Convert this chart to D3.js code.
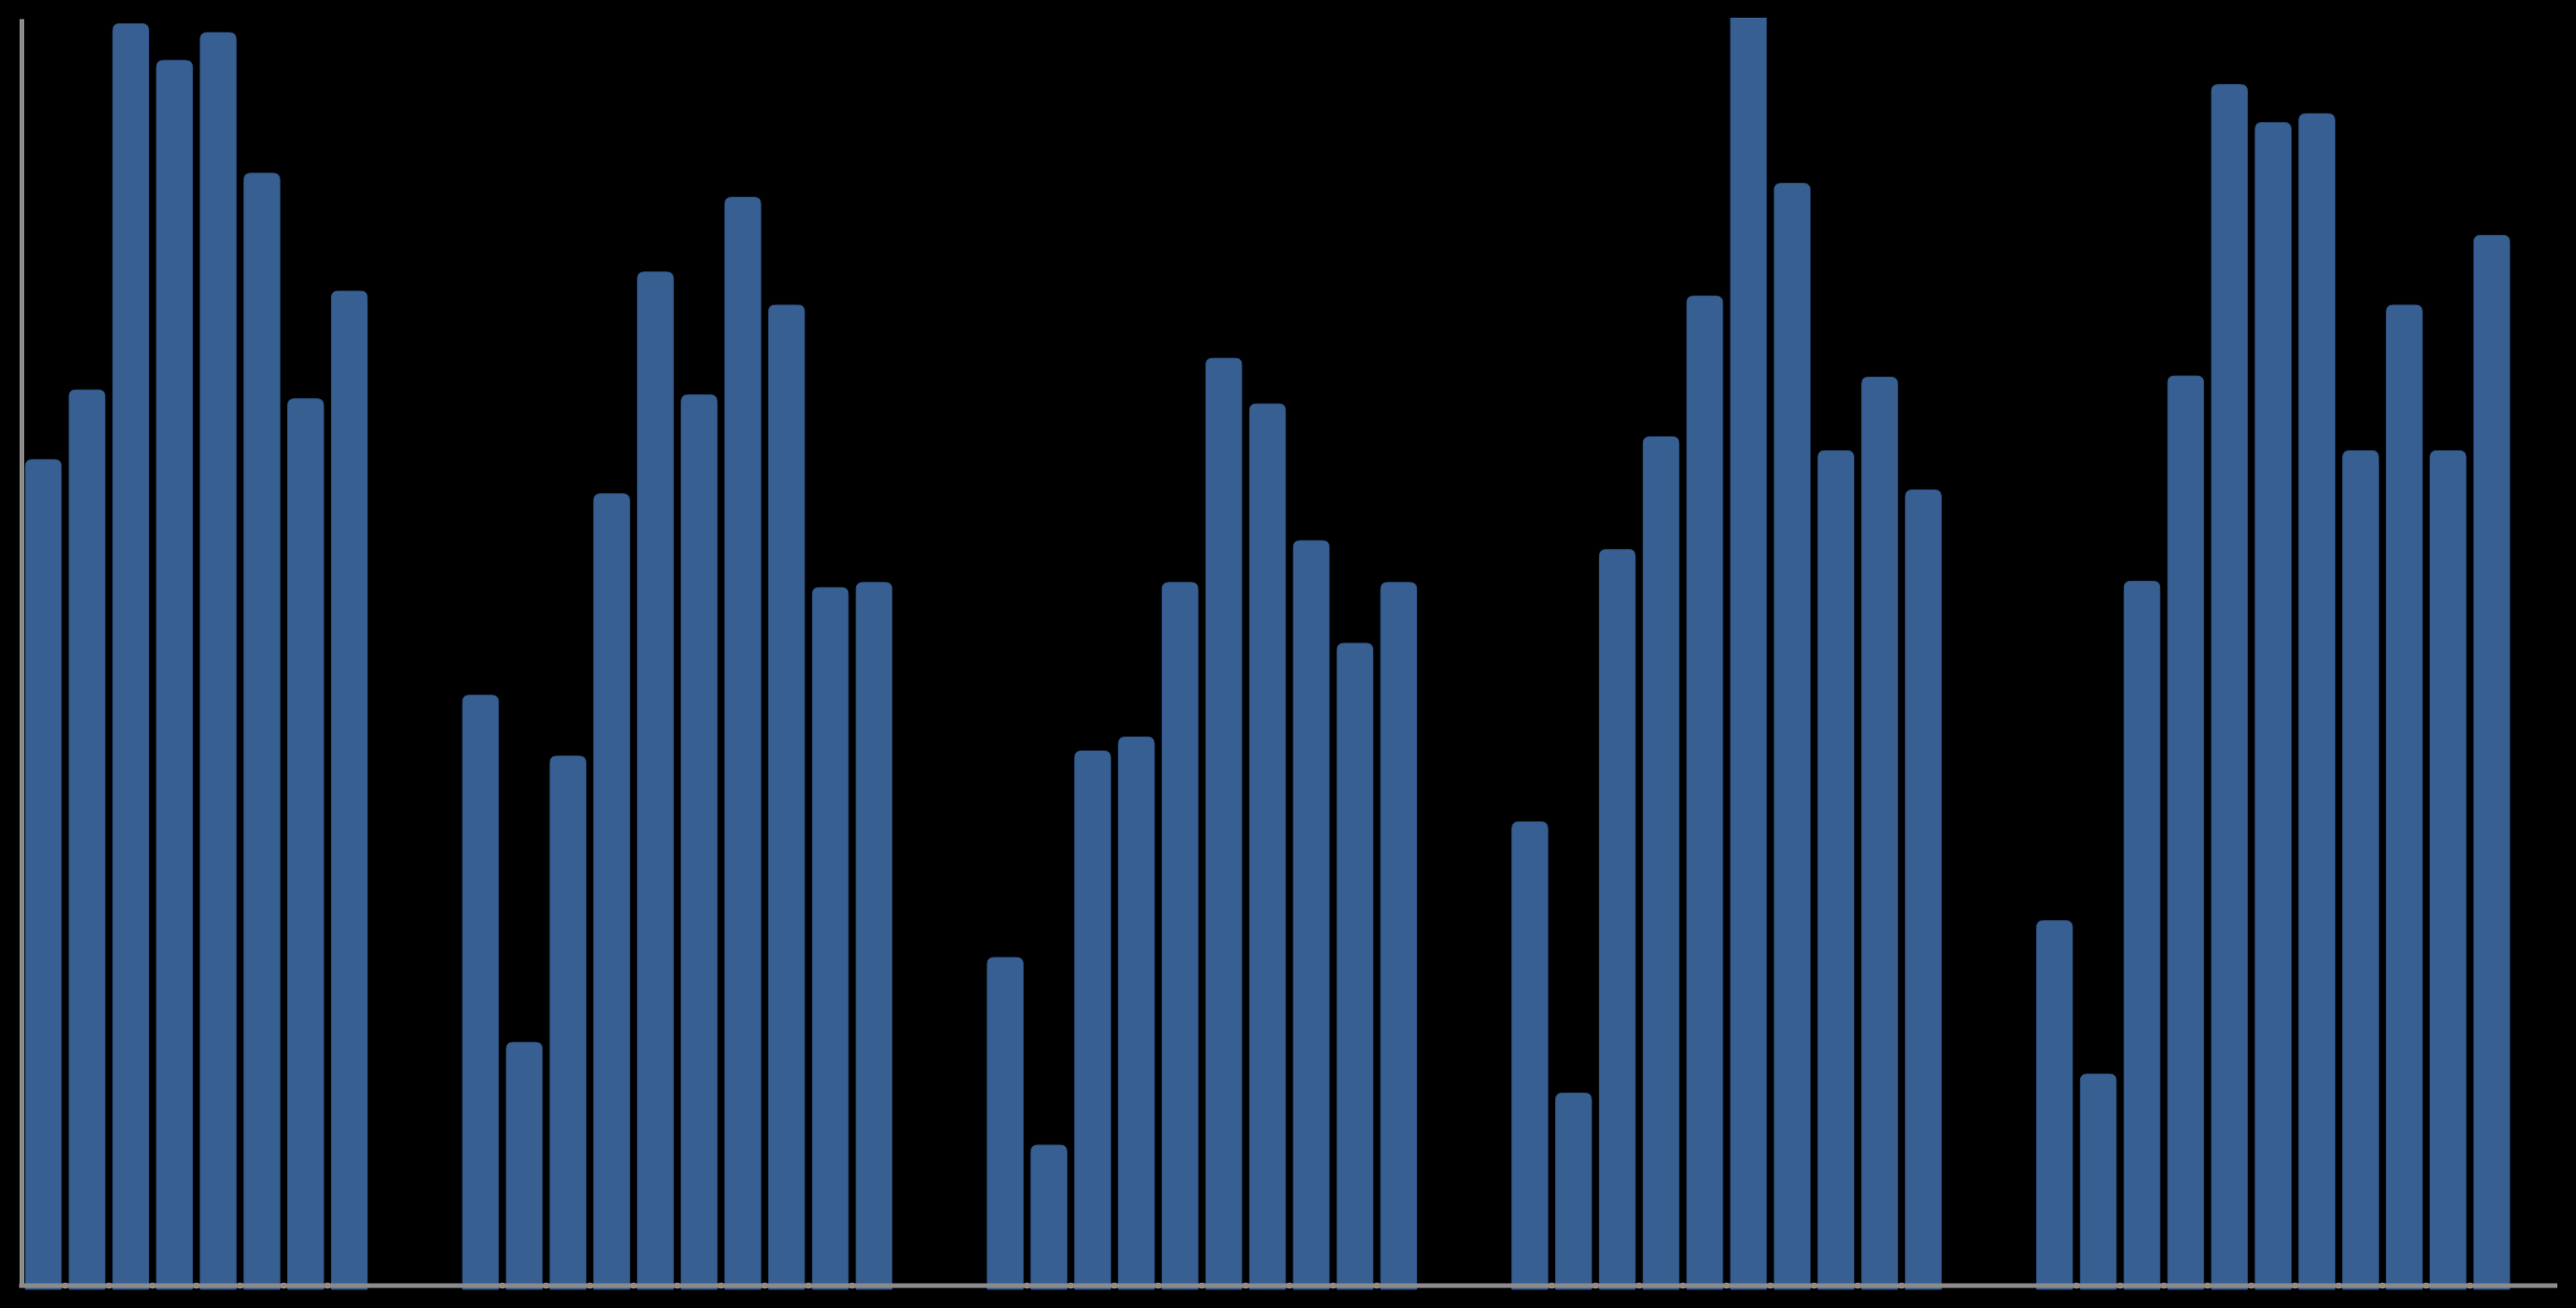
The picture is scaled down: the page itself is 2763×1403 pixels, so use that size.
<!DOCTYPE html>
<meta charset="utf-8">
<script src="https://d3js.org/d3.v7.min.js"></script>
<style>
  html, body { margin: 0; padding: 0; background: #000; }
</style>
<div id="my_dataviz"></div>
<script>
  // bar groups as they appear left to right (no labels in the chart)
  var groupNames = ["G1", "G2", "G3", "G4", "G5"];
  var group1 = [65.2, 70.7, 99.6, 96.7, 98.9, 87.8, 70.0, 78.5];
  var group2 = [46.6, 19.2, 41.8, 62.5, 80.0, 70.3, 85.9, 77.4, 55.1, 55.5];
  var group3 = [25.9, 11.1, 42.2, 43.3, 55.5, 73.2, 69.6, 58.8, 50.7, 55.5];
  var group4 = [36.6, 15.2, 58.1, 67.0, 78.1, 104.0, 87.0, 65.9, 71.7, 62.8];
  var group5 = [28.8, 16.7, 55.6, 71.8, 94.8, 91.8, 92.5, 65.9, 77.4, 65.9, 82.9];
  var groupValues = [group1, group2, group3, group4, group5];

  // chart box (note: "top" is reserved on window, so use plot* names)
  var W = 2763, H = 1403;
  var plotLeft = 23, plotRight = 2743, plotTop = 20, plotBase = 1379;

  // flat list of slots on the category axis: bars, then empty gap slots
  var slots = [], bars = [];
  groupValues.forEach(function(vals, g) {
    vals.forEach(function(v, i) {
      var key = groupNames[g] + "-" + (i + 1);
      slots.push(key);
      bars.push({key: key, group: g, index: i, value: v});
    });
    var gaps = g < groupValues.length - 1 ? 2 : 1;
    for (var k = 0; k < gaps; k++) slots.push(groupNames[g] + "-gap" + k);
  });

  var svg = d3.select("#my_dataviz")
    .append("svg")
      .attr("width", W)
      .attr("height", H)
      .style("display", "block")
      .style("background", "#000");

  var x = d3.scaleBand()
    .domain(slots)
    .range([plotLeft, plotRight])
    .paddingInner(0.18)
    .paddingOuter(0.09);

  var y = d3.scaleLinear()
    .domain([0, 100])
    .range([plotBase, plotTop]);

  svg.append("defs").append("clipPath")
      .attr("id", "plot-clip")
    .append("rect")
      .attr("x", 0)
      .attr("y", plotTop - 1)
      .attr("width", W)
      .attr("height", H);

  // bar with rounded top corners, square bottom that runs a little under the axis
  function barPath(x0, y0, w, y1, r) {
    r = Math.min(r, w / 2, (y1 - y0) / 2);
    return "M" + x0 + "," + y1 +
      "V" + (y0 + r) +
      "Q" + x0 + "," + y0 + " " + (x0 + r) + "," + y0 +
      "H" + (x0 + w - r) +
      "Q" + (x0 + w) + "," + y0 + " " + (x0 + w) + "," + (y0 + r) +
      "V" + y1 + "Z";
  }

  svg.append("g")
      .attr("clip-path", "url(#plot-clip)")
    .selectAll("path")
    .data(bars)
    .enter()
    .append("path")
      .attr("d", function(d) {
        return barPath(x(d.key), y(d.value), x.bandwidth(), y(0) + 4, 7);
      })
      .attr("fill", "#375f92")
      .attr("stroke", "#2f5283")
      .attr("stroke-width", 1);

  // left axis
  svg.append("g")
      .attr("transform", "translate(" + plotLeft + ",0)")
      .call(d3.axisLeft(y).tickValues([]).tickSizeOuter(0))
      .call(function(g) {
        g.select(".domain").attr("stroke", "#8a8a8a").attr("stroke-width", 5);
      });

  // bottom axis
  svg.append("g")
      .attr("transform", "translate(0," + plotBase + ")")
      .call(d3.axisBottom(x).tickValues([]).tickSizeOuter(0))
      .call(function(g) {
        g.select(".domain")
          .attr("d", "M" + (plotLeft - 2.5) + ",0H" + plotRight)
          .attr("stroke", "#8a8a8a").attr("stroke-width", 5);
      });

  // small marks on the axis where two neighbouring bars meet
  var joints = [];
  bars.forEach(function(d, i) {
    var next = bars[i + 1];
    if (next && next.group === d.group) joints.push(d.key);
  });
  svg.append("g")
    .selectAll("circle")
    .data(joints)
    .enter()
    .append("circle")
      .attr("cx", function(k) { return x(k) + x.step() - x.step() * x.paddingInner() / 2; })
      .attr("cy", plotBase)
      .attr("r", 3.3)
      .attr("fill", "#8f8b84");
</script>
